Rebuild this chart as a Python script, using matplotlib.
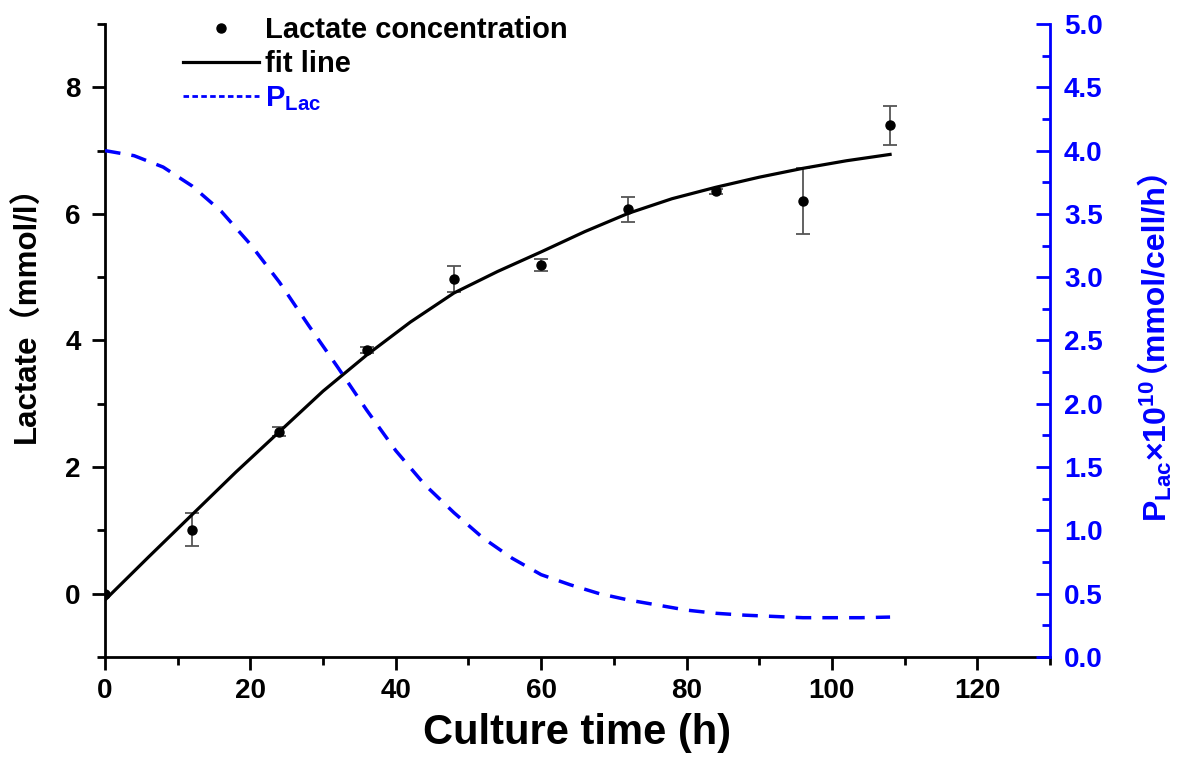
from matplotlib import pyplot
from matplotlib.lines import Line2D
import matplotlib.ticker as ticker

pyplot.rcParams['font.family'] = ['Liberation Sans', 'Noto Sans CJK SC']
pyplot.rcParams['font.weight'] = 'bold'
pyplot.rcParams['axes.labelweight'] = 'bold'
pyplot.rcParams['mathtext.fontset'] = 'custom'
pyplot.rcParams['mathtext.rm'] = 'Liberation Sans:bold'
pyplot.rcParams['mathtext.bf'] = 'Liberation Sans:bold'
pyplot.rcParams['mathtext.it'] = 'Liberation Sans:bold'

# measured lactate, mmol/l
time_h = [0, 12, 24, 36, 48, 60, 72, 84, 96, 108]
lactate = [0.0, 1.01, 2.56, 3.85, 4.97, 5.19, 6.07, 6.36, 6.21, 7.40]
lactate_err = [0.0, 0.26, 0.07, 0.05, 0.21, 0.09, 0.20, 0.04, 0.52, 0.31]

# fit line
fit_t = [0, 6, 12, 18, 24, 30, 36, 42, 48, 54, 60, 66, 72, 78, 84, 90, 96, 102, 108]
fit_y = [-0.10, 0.58, 1.25, 1.92, 2.56, 3.20, 3.77, 4.29, 4.75, 5.09, 5.40,
         5.72, 6.01, 6.24, 6.42, 6.58, 6.72, 6.84, 6.94]

# P_Lac x 10^10, mmol/cell/h
p_t = [0, 4, 8, 12, 16, 20, 24, 28, 32, 36, 40, 44, 48, 52, 56, 60, 64, 68,
       72, 76, 80, 84, 88, 92, 96, 100, 104, 108]
p_lac = [4.00, 3.96, 3.87, 3.72, 3.52, 3.26, 2.96, 2.62, 2.29, 1.95, 1.63, 1.36,
         1.14, 0.94, 0.78, 0.65, 0.57, 0.50, 0.45, 0.41, 0.37, 0.345, 0.33, 0.32,
         0.31, 0.31, 0.31, 0.315]

blue = '#0000ff'

fig = pyplot.figure(figsize=(11.89, 7.63), dpi=100)
ax = fig.add_axes([0.0883, 0.139, 0.7948, 0.8295])
ax2 = ax.twinx()

ax.errorbar(time_h, lactate, yerr=lactate_err, fmt='none', ecolor='#555555',
            elinewidth=1.3, capsize=5, capthick=1.3, zorder=2)
ax.plot(time_h, lactate, 'o', color='black', markersize=6.5, zorder=3)
ax.plot(fit_t, fit_y, color='black', linewidth=2.3, zorder=4)
ax2.plot(p_t, p_lac, color=blue, linewidth=2.5, linestyle=(0, (4.5, 3.2)))

ax.set_xlim(0, 130)
ax.set_ylim(-1, 9)
ax2.set_ylim(0, 5)

ax.xaxis.set_major_locator(ticker.MultipleLocator(20))
ax.xaxis.set_minor_locator(ticker.MultipleLocator(10))
ax.yaxis.set_major_locator(ticker.MultipleLocator(2))
ax.yaxis.set_minor_locator(ticker.MultipleLocator(1))
ax2.yaxis.set_major_locator(ticker.MultipleLocator(0.5))
ax2.yaxis.set_minor_locator(ticker.MultipleLocator(0.25))
ax2.yaxis.set_major_formatter(ticker.FormatStrFormatter('%.1f'))

for a in (ax, ax2):
    a.spines['top'].set_visible(False)
    for s in a.spines.values():
        s.set_linewidth(2)
ax.spines['right'].set_visible(False)
ax2.spines['left'].set_visible(False)
ax2.spines['bottom'].set_visible(False)
ax2.spines['right'].set_color(blue)

ax.tick_params(which='major', direction='out', length=9.5, width=2, labelsize=20)
ax.tick_params(which='minor', direction='out', length=5.5, width=2)
ax.tick_params(axis='y', which='major', pad=8)
ax.tick_params(axis='x', which='major', pad=6)
# right axis ticks point into the plot
ax2.tick_params(which='major', direction='in', length=10, width=2, labelsize=20,
                colors=blue, pad=10)
ax2.tick_params(which='minor', direction='in', length=5.5, width=2, colors=blue)

ax.set_xlabel('Culture time (h)', fontsize=30, labelpad=6)
ax.set_ylabel('Lactate（mmol/l）', fontsize=22.5)
ax.yaxis.set_label_coords(-0.066, 0.553)

# right label: mathtext part, then the full-width bracket part stacked above it
lab_x, lab_y = 1167 / 1189, 1 - 522 / 763
renderer = fig.canvas.get_renderer()
t1 = fig.text(lab_x, lab_y, r'$\mathbf{P_{Lac}×10^{10}}$', fontsize=23, color=blue,
              rotation=90, rotation_mode='anchor', ha='left', va='baseline')
h1 = t1.get_window_extent(renderer).height / fig.bbox.height
# nudged left by hand so its letters sit on the same baseline as the P
fig.text(lab_x - 16 / 1189, lab_y + h1 + 8 / 763, '（mmol/cell/h）', fontsize=23,
         color=blue, rotation=90, rotation_mode='anchor', ha='left', va='bottom')

handles = [Line2D([], [], marker='o', linestyle='none', color='black', markersize=6.5),
           Line2D([], [], color='black', linewidth=2.3),
           Line2D([], [], color=blue, linewidth=2, linestyle=(0, (2, 1.2)))]
labels = ['Lactate concentration', 'fit line', r'$\mathbf{P_{Lac}}$']
leg = ax2.legend(handles, labels, loc='upper left', bbox_to_anchor=(0.083, 1.012),
                 frameon=False, fontsize=21, handlelength=2.6, handletextpad=0.2,
                 labelspacing=0.2, borderpad=0, borderaxespad=0, numpoints=1)
leg.get_texts()[2].set_color(blue)

fig.savefig('out.png')
